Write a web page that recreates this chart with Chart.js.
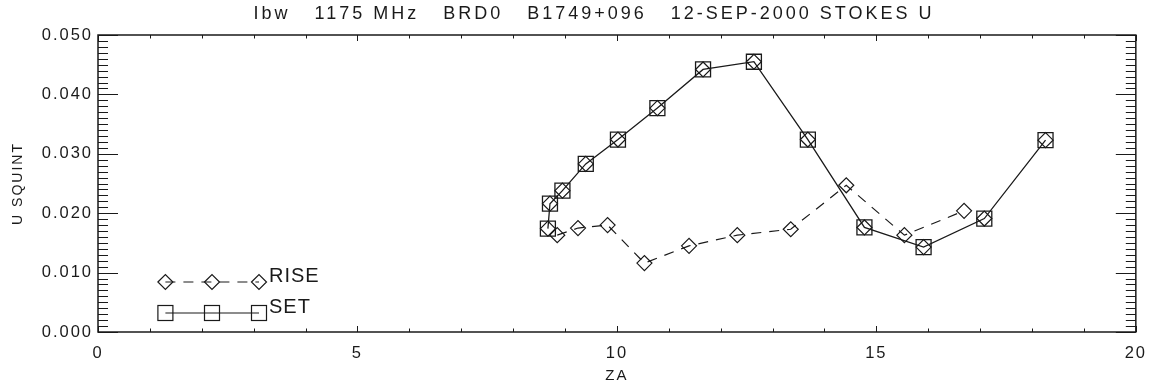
<!DOCTYPE html>
<html>
<head>
<meta charset="utf-8">
<script src="https://cdn.jsdelivr.net/npm/chart.js@4/dist/chart.umd.min.js"></script>
<style>
  html, body { margin: 0; padding: 0; background: #fff; }
  #wrap { width: 1157px; height: 388px; }
</style>
</head>
<body>
<div id="wrap"><canvas id="grafico"></canvas></div>
<script>
// datos
const TITULO = "Ibw   1175 MHz   BRD0   B1749+096   12-SEP-2000 STOKES U";
const riseZA = [8.85, 9.25, 9.82, 10.53, 11.39, 12.32, 13.35, 14.42, 15.54, 16.69];
const riseU  = [0.0163, 0.0175, 0.0180, 0.0116, 0.0145, 0.0163, 0.0173, 0.0247, 0.0163, 0.0204];
const setZA  = [8.67, 8.71, 8.95, 9.40, 10.02, 10.78, 11.66, 12.64, 13.68, 14.77, 15.91, 17.08, 18.26];
const setU   = [0.0174, 0.0216, 0.0238, 0.0283, 0.0324, 0.0377, 0.0442, 0.0455, 0.0324, 0.0176, 0.0143, 0.0191, 0.0323];
const xTicks = [0, 5, 10, 15, 20];
const yTicks = [0.000, 0.010, 0.020, 0.030, 0.040, 0.050];
const leyenda = ["RISE", "SET"];

const FUENTE = "'Liberation Sans', Arial, sans-serif";
const NEGRO = "#1a1a1a";

const puntos = (xs, ys) => xs.map((x, i) => ({x: x, y: ys[i]}));

// letras mas espaciadas, como la fuente Hershey del original
const espaciado = {
    id: "espaciado",
    beforeDraw(chart) {
        chart.ctx.letterSpacing = "2px";
    }
};

// marco, ticks internos, titulo y leyenda
const decoracion = {
    id: "decoracion",
    afterDraw(chart) {
        const ctx = chart.ctx;
        const a = chart.chartArea;
        const sx = chart.scales.x, sy = chart.scales.y;
        ctx.save();
        ctx.strokeStyle = NEGRO;
        ctx.lineWidth = 1;
        ctx.beginPath();
        for (let v = 0; v <= 20; v++) {
            const px = Math.round(sx.getPixelForValue(v)) + 0.5;
            const L = (v % 5 === 0) ? 6 : 3.5;
            ctx.moveTo(px, a.bottom); ctx.lineTo(px, a.bottom - L);
            ctx.moveTo(px, a.top); ctx.lineTo(px, a.top + L);
        }
        for (let k = 0; k <= 50; k++) {
            const py = Math.round(sy.getPixelForValue(k / 1000)) + 0.5;
            const L = (k % 10 === 0) ? 20 : 10;
            ctx.moveTo(a.left, py); ctx.lineTo(a.left + L, py);
            ctx.moveTo(a.right, py); ctx.lineTo(a.right - L, py);
        }
        ctx.stroke();
        ctx.lineWidth = 1.5;
        ctx.strokeRect(a.left, a.top, a.right - a.left, a.bottom - a.top);

        // titulo
        ctx.fillStyle = NEGRO;
        ctx.font = "18px " + FUENTE;
        ctx.letterSpacing = "3px";
        ctx.textAlign = "center";
        ctx.textBaseline = "middle";
        ctx.fillText(TITULO, 594, 14);

        // leyenda
        const xs = [a.left + 67.4, a.left + 114, a.left + 161];
        const yR = a.bottom - 50, yS = a.bottom - 19;
        ctx.lineWidth = 1.2;
        ctx.setLineDash([10, 8]);
        ctx.beginPath();
        ctx.moveTo(xs[0], yR); ctx.lineTo(xs[2], yR);
        ctx.stroke();
        ctx.setLineDash([]);
        ctx.beginPath();
        ctx.moveTo(xs[0], yS); ctx.lineTo(xs[2], yS);
        ctx.stroke();
        xs.forEach(x => {
            ctx.beginPath();
            ctx.moveTo(x - 7.5, yR); ctx.lineTo(x, yR - 7.5);
            ctx.lineTo(x + 7.5, yR); ctx.lineTo(x, yR + 7.5);
            ctx.closePath();
            ctx.stroke();
            ctx.strokeRect(x - 7.5, yS - 7.5, 15, 15);
        });
        ctx.font = "20px " + FUENTE;
        ctx.letterSpacing = "1px";
        ctx.textAlign = "left";
        ctx.textBaseline = "alphabetic";
        ctx.fillText(leyenda[0], xs[2] + 10, yR);
        ctx.fillText(leyenda[1], xs[2] + 10, yS);
        ctx.restore();
    }
};

new Chart(document.getElementById("grafico"), {
    type: "line",
    data: {
        datasets: [
            {
                label: leyenda[0],
                data: puntos(riseZA, riseU),
                borderColor: NEGRO,
                borderWidth: 1.2,
                borderDash: [10, 8],
                pointStyle: "rectRot",
                pointRadius: 7.5,
                pointBorderWidth: 1.2,
                pointBorderColor: NEGRO,
                pointBackgroundColor: "rgba(0,0,0,0)"
            },
            {
                label: leyenda[1],
                data: puntos(setZA, setU),
                borderColor: NEGRO,
                borderWidth: 1.3,
                pointStyle: "rect",
                pointRadius: 10.6,
                pointBorderWidth: 1.3,
                pointBorderColor: NEGRO,
                pointBackgroundColor: "rgba(0,0,0,0)"
            },
            {
                label: "set-diamantes",
                data: puntos(setZA, setU),
                showLine: false,
                pointStyle: "rectRot",
                pointRadius: 7.5,
                pointBorderWidth: 1.2,
                pointBorderColor: NEGRO,
                pointBackgroundColor: "rgba(0,0,0,0)"
            }
        ]
    },
    options: {
        responsive: true,
        maintainAspectRatio: false,
        animation: false,
        layout: { padding: { top: 35, right: 17, left: 0, bottom: 0 } },
        plugins: {
            legend: { display: false },
            tooltip: { enabled: false }
        },
        scales: {
            x: {
                type: "linear",
                min: 0, max: 20,
                afterBuildTicks: s => { s.ticks = xTicks.map(v => ({value: v})); },
                afterFit: s => { s.height = 56; },
                grid: { display: false, drawTicks: false },
                border: { display: false },
                ticks: { color: NEGRO, padding: 12, maxRotation: 0, font: { family: FUENTE, size: 16.5 } },
                title: { display: true, text: "ZA", color: NEGRO, padding: { top: 0, bottom: 3 }, font: { family: FUENTE, size: 15 } }
            },
            y: {
                type: "linear",
                min: 0, max: 0.05,
                afterBuildTicks: s => { s.ticks = yTicks.map(v => ({value: v})); },
                afterFit: s => { s.width = 98; },
                grid: { display: false, drawTicks: false },
                border: { display: false },
                ticks: { color: NEGRO, padding: 5, font: { family: FUENTE, size: 16.5 }, callback: v => v.toFixed(3) },
                title: { display: true, text: "U SQUINT", color: NEGRO, padding: { top: 10, bottom: 0 }, font: { family: FUENTE, size: 14 } }
            }
        }
    },
    plugins: [espaciado, decoracion]
});
</script>
</body>
</html>
